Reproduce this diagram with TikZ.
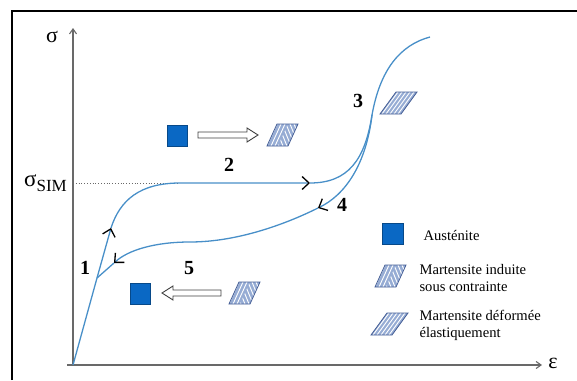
\documentclass[tikz,border=0pt]{standalone}
\usepackage{fontspec}
\setmainfont{Liberation Serif}
\usetikzlibrary{arrows.meta}
\definecolor{curveblue}{RGB}{72,143,200}
\definecolor{austblue}{RGB}{10,104,196}
\definecolor{martfill}{RGB}{150,172,212}
\definecolor{martedge}{RGB}{70,95,150}
\definecolor{axisgray}{RGB}{105,105,105}
% martensite icons, bottom-left corner at (#1,#2)
\def\martind(#1,#2){%
  \begin{scope}[shift={(#1,#2)}]
    \fill[martfill] (0,0) -- (21,0) -- (31,-22) -- (10,-22) -- cycle;
    \begin{scope}
      \clip (0,0) -- (11,0) -- (21,-22) -- (10,-22) -- cycle;
      \foreach \i in {-24,-20,...,24} \draw[white,line width=0.9] (\i,0) -- ++(10,-22);
    \end{scope}
    \begin{scope}
      \clip (11,0) -- (21,0) -- (31,-22) -- (21,-22) -- cycle;
      \foreach \i in {0,4,...,48} \draw[white,line width=0.9] (\i,0) -- ++(-9,-22);
    \end{scope}
    \draw[martedge,line width=0.8] (0,0) -- (21,0) -- (31,-22) -- (10,-22) -- cycle;
  \end{scope}}
\def\martdef(#1,#2){%
  \begin{scope}[shift={(#1,#2)}]
    \fill[martfill] (0,0) -- (21,0) -- (37,-22) -- (16,-22) -- cycle;
    \begin{scope}
      \clip (0,0) -- (21,0) -- (37,-22) -- (16,-22) -- cycle;
      \foreach \i in {-30,-26,...,30} \draw[white,line width=0.9] (\i,0) -- ++(16,-22);
    \end{scope}
    \draw[martedge,line width=0.8] (0,0) -- (21,0) -- (37,-22) -- (16,-22) -- cycle;
  \end{scope}}

\begin{document}
\begin{tikzpicture}[x=1pt,y=-1pt,
  curve/.style={curveblue,line width=1.3pt},
  flowtip/.style={-{Straight Barb[black,length=7pt,width=13pt,line width=1.3pt]}},
  axis/.style={axisgray,line width=1.1pt,-{Straight Barb[length=5pt,width=7pt]}},
  austbox/.style={fill=austblue,draw=austblue!70!black,line width=0.6pt},
  hollow/.style={draw=black!75,line width=0.9pt,fill=white},
  stage/.style={font=\fontsize{20}{20}\selectfont\bfseries},
  legend/.style={anchor=west,align=left,font=\fontsize{14.6}{17}\selectfont}]
  \useasboundingbox (0,0) rectangle (577,380);
  %%%%% frame
  \draw[line width=2pt] (12,380) -- (12,11) -- (577,11);
  %%%%% axes
  \draw[axis] (67,365) -- (542,365);
  \draw[axis] (73,365) -- (73,28);
  \node (sig) at (52,37) {\fontsize{22}{22}\selectfont σ};
  \node (eps) at (553,363) {\fontsize{22}{22}\selectfont ε};
  \node[anchor=east,inner sep=0pt] (sim) at (67,183) {{\fontsize{23}{23}\selectfont σ}{\fontsize{17}{17}\selectfont\raisebox{-5pt}{SIM}}};
  \draw[axisgray,dotted,line width=0.8pt] (73,183) -- (178,183);
  %%%%% loading
  \draw[curve,flowtip] (73,365) -- (97,278) -- (111,228);
  \draw[curve,flowtip] (111,228) .. controls (120,200) and (140,183) .. (180,183) -- (310,183);
  \draw[curve] (310,183) .. controls (348,183) and (365,160) .. (372,115)
    .. controls (380,70) and (400,45) .. (430,37);
  %%%%% unloading
  \draw[curve,flowtip] (372,115) .. controls (366,165) and (345,195) .. (318,208);
  \draw[curve,flowtip] (318,208) .. controls (290,222) and (240,242) .. (190,242)
    .. controls (155,242) and (128,250) .. (114,263);
  \draw[curve] (114,263) .. controls (106,270) .. (97,278);
  %%%%% stages
  \node[stage] (s1) at (85,268) {1};
  \node[stage] (s2) at (229,165) {2};
  \node[stage] (s3) at (358,101) {3};
  \node[stage] (s4) at (342,205) {4};
  \node[stage] (s5) at (189,268) {5};
  %%%%% transformation 2
  \draw[austbox] (167,125) rectangle (187,146);
  \draw[hollow] (198,132) -- (247,132) -- (247,128) -- (258,135) -- (247,142) -- (247,138) -- (198,138) -- cycle;
  \martind(267,146)
  %%%%% stage 3
  \martdef(380,114)
  %%%%% transformation 5
  \draw[austbox] (130,283) rectangle (150,304);
  \draw[hollow] (221,290) -- (173,290) -- (173,286) -- (162,293) -- (173,300) -- (173,296) -- (221,296) -- cycle;
  \martind(229,304)
  %%%%% legend
  \draw[austbox] (382,223) rectangle (403,244);
  \node[legend] (aus) at (420,235) {Austénite};
  \martind(375,287)
  \node[legend] (mind) at (416,278) {Martensite induite\\sous contrainte};
  \martdef(371,335)
  \node[legend] (mdef) at (416,325) {Martensite déformée\\élastiquement};
\end{tikzpicture}
\end{document}
